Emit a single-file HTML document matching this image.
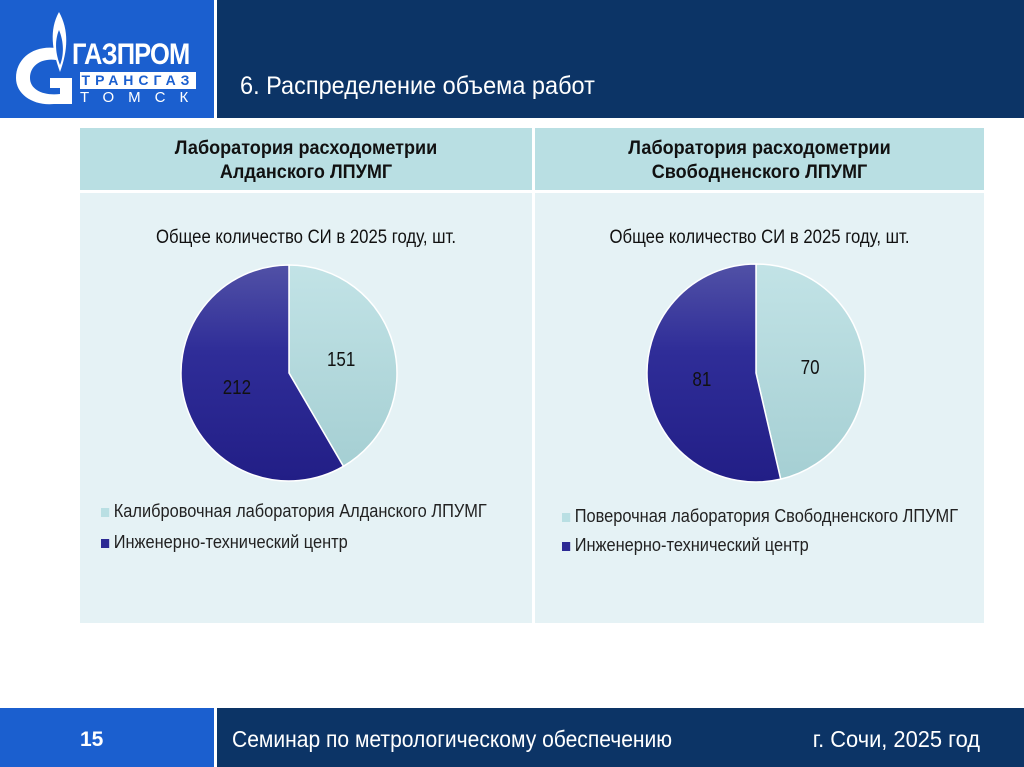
<!DOCTYPE html>
<html><head><meta charset="utf-8"><style>
body{margin:0;width:1024px;height:767px;position:relative;background:#fff;font-family:"Liberation Sans","Noto Sans CJK SC",sans-serif;overflow:hidden}
div{position:absolute;box-sizing:border-box}
.t{white-space:nowrap}
</style></head><body>
<div style="left:0;top:0;width:214px;height:118px;background:#1b5fcf"></div>
<div style="left:217px;top:0;width:807px;height:118px;background:#0c3466"></div>
<svg style="position:absolute;left:14px;top:10px" width="70" height="100">
<path d="M45 2 C35 20 38 40 46 62 C54 40 55 20 45 2Z" fill="#fff"/>
<path d="M45 20 C40 32 42 45 46 55 C50 45 50 32 45 20Z" fill="#1b5fcf"/>
<path d="M42 38 C20 35 2 48 2 68 C2 85 20 96 40 94 L58 94 L58 68 L36 68 L36 78 L46 78 L46 84 C30 86 16 80 16 68 C16 55 28 48 42 50Z" fill="#fff"/>
</svg>
<div class="t" style="left:72px;top:38px;color:#fff;font-weight:bold;font-size:30px;letter-spacing:-1px;transform:scaleX(0.85);transform-origin:left">ГАЗПРОМ</div>
<div class="t" style="left:80px;top:72px;width:116px;height:17px;background:#fff;color:#1b5fcf;font-weight:bold;font-size:14px;letter-spacing:5px;text-align:center;line-height:17px">ТРАНСГАЗ</div>
<div class="t" style="left:80px;top:89px;color:#fff;font-size:15px;letter-spacing:14px">ТОМСК</div>
<div class="t" style="left:240px;top:72px;color:#fff;font-size:25px;transform:scaleX(0.94);transform-origin:left">6. Распределение объема работ</div>

<div style="left:80px;top:128px;width:452px;height:62px;background:#b9dfe3"></div>
<div style="left:535px;top:128px;width:449px;height:62px;background:#b9dfe3"></div>
<div style="left:80px;top:193px;width:452px;height:430px;background:#e5f2f5"></div>
<div style="left:535px;top:193px;width:449px;height:430px;background:#e5f2f5"></div>
<div style="left:80px;top:137px;width:452px;text-align:center;font-weight:bold;font-size:19px;line-height:24px;color:#111;transform:scaleX(0.95)">Лаборатория расходометрии<br>Алданского ЛПУМГ</div>
<div style="left:535px;top:137px;width:449px;text-align:center;font-weight:bold;font-size:19px;line-height:24px;color:#111;transform:scaleX(0.95)">Лаборатория расходометрии<br>Свободненского ЛПУМГ</div>
<div class="t" style="left:80px;top:227px;width:452px;text-align:center;font-size:19px;color:#111;transform:scaleX(0.88)">Общее количество СИ в 2025 году, шт.</div>
<div class="t" style="left:535px;top:227px;width:449px;text-align:center;font-size:19px;color:#111;transform:scaleX(0.88)">Общее количество СИ в 2025 году, шт.</div>

<svg id="pies" style="position:absolute;left:0;top:0" width="1024" height="767">
<defs>
<linearGradient id="gl" x1="0" y1="0" x2="0" y2="1"><stop offset="0" stop-color="#c2e3e6"/><stop offset="1" stop-color="#a5cfd3"/></linearGradient>
<linearGradient id="gd" x1="0" y1="0" x2="0" y2="1"><stop offset="0" stop-color="#5151a6"/><stop offset="0.4" stop-color="#2f2d98"/><stop offset="1" stop-color="#221e86"/></linearGradient>
</defs>
</svg>

<div class="t" style="left:101px;top:501px;font-size:18px;color:#222;transform:scaleX(0.91);transform-origin:left"><span style="display:inline-block;width:9px;height:9px;background:#b9dfe3;margin-right:5px"></span>Калибровочная лаборатория Алданского ЛПУМГ</div>
<div class="t" style="left:101px;top:532px;font-size:18px;color:#222;transform:scaleX(0.91);transform-origin:left"><span style="display:inline-block;width:9px;height:9px;background:#2c2a94;margin-right:5px"></span>Инженерно-технический центр</div>
<div class="t" style="left:562px;top:506px;font-size:18px;color:#222;transform:scaleX(0.91);transform-origin:left"><span style="display:inline-block;width:9px;height:9px;background:#b9dfe3;margin-right:5px"></span>Поверочная лаборатория Свободненского ЛПУМГ</div>
<div class="t" style="left:562px;top:535px;font-size:18px;color:#222;transform:scaleX(0.91);transform-origin:left"><span style="display:inline-block;width:9px;height:9px;background:#2c2a94;margin-right:5px"></span>Инженерно-технический центр</div>

<div style="left:0;top:708px;width:214px;height:59px;background:#1b5fcf"></div>
<div style="left:217px;top:708px;width:807px;height:59px;background:#0c3466"></div>
<div class="t" style="left:80px;top:728px;color:#fff;font-weight:bold;font-size:21px">15</div>
<div class="t" style="left:232px;top:726px;color:#fff;font-size:23px;transform:scaleX(0.915);transform-origin:left">Семинар по метрологическому обеспечению</div>
<div class="t" style="right:44px;top:726px;color:#fff;font-size:23px;transform:scaleX(0.95);transform-origin:right">г. Сочи, 2025 год</div>

<script>
const leftCats=["Калибровочная лаборатория Алданского ЛПУМГ","Инженерно-технический центр"];
const leftVals=[151,212];
const rightCats=["Поверочная лаборатория Свободненского ЛПУМГ","Инженерно-технический центр"];
const rightVals=[70,81];
const svg=document.getElementById('pies');
const NS="http://www.w3.org/2000/svg";
function drawPie(cx,cy,r,vals,prefix){
  const tot=vals.reduce((a,b)=>a+b,0);
  let a0=0;const fills=["url(#gl)","url(#gd)"];
  vals.forEach((v,i)=>{
    const a1=a0+v/tot*2*Math.PI;
    const p=t=>[cx+r*Math.sin(t),cy-r*Math.cos(t)];
    const [x0,y0]=p(a0),[x1,y1]=p(a1);
    const path=document.createElementNS(NS,'path');
    path.setAttribute('d',`M${cx},${cy}L${x0},${y0}A${r},${r} 0 ${a1-a0>Math.PI?1:0} 1 ${x1},${y1}Z`);
    path.setAttribute('fill',fills[i]);path.setAttribute('stroke','#fff');path.setAttribute('stroke-width','1.5');
    
    
    svg.appendChild(path);
    const m=(a0+a1)/2,lr=r*0.5;
    const tx=document.createElementNS(NS,'text');
    const lx=cx+lr*Math.sin(m), ly=cy-lr*Math.cos(m)+7;
    tx.setAttribute('x',lx);tx.setAttribute('y',ly);
    tx.setAttribute('text-anchor','middle');tx.setAttribute('font-size','20');tx.setAttribute('fill','#111');
    tx.setAttribute('transform',`translate(${lx},0) scale(0.85,1) translate(${-lx},0)`);
    tx.setAttribute('font-family','Liberation Sans, sans-serif');
    tx.textContent=v;
    
    
    svg.appendChild(tx);
    a0=a1;
  });
}
drawPie(289,373,108,leftVals,'left-pie');
drawPie(756,373,109,rightVals,'right-pie');
</script>
</body></html>
